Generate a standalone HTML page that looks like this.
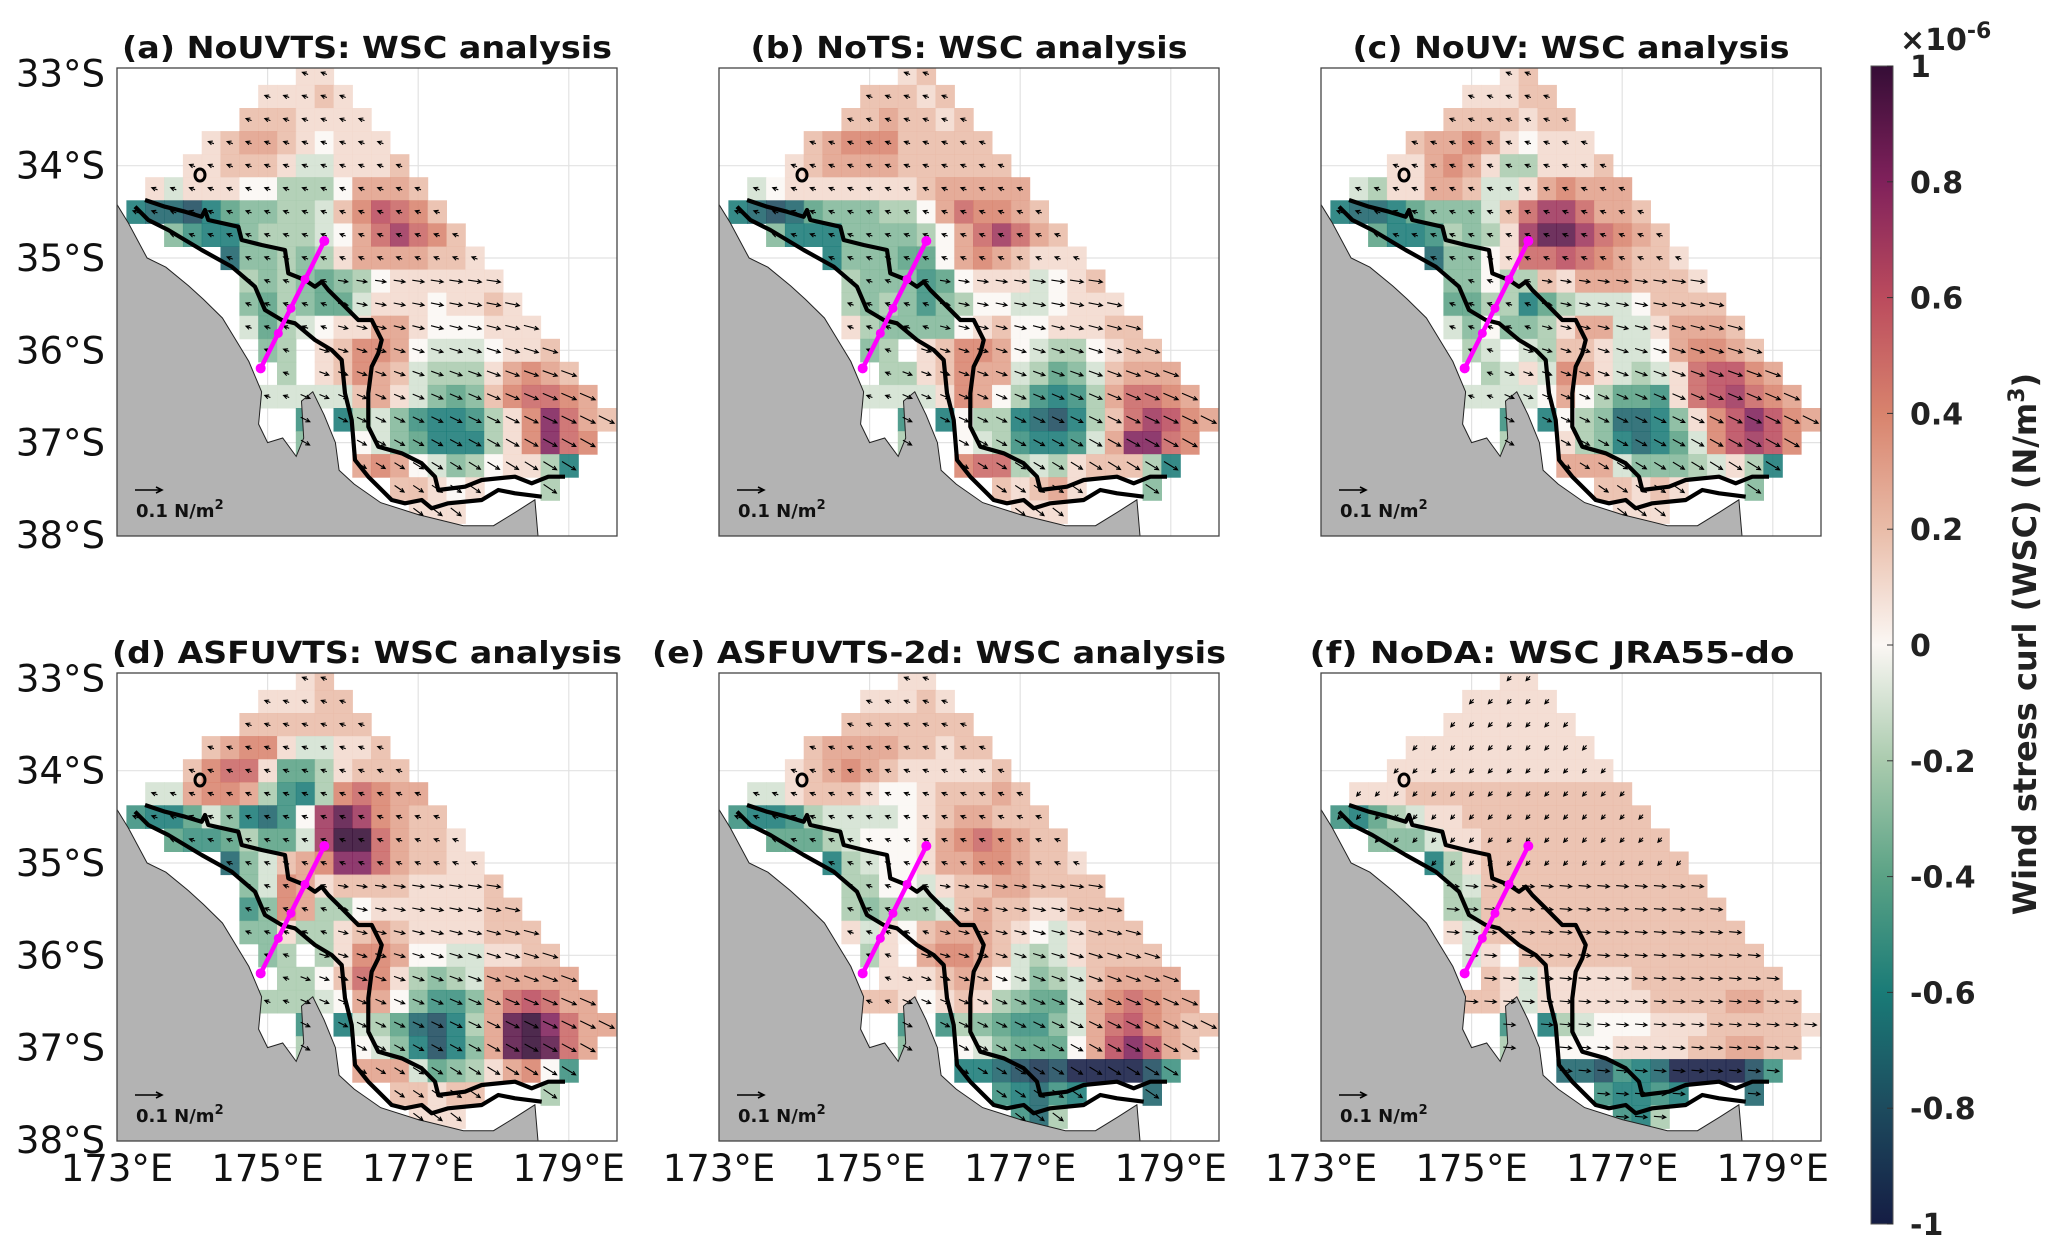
<!DOCTYPE html>
<html><head><meta charset="utf-8"><style>
html,body{margin:0;padding:0;background:#fff;}
svg{display:block;}
text{font-family:"DejaVu Sans","Liberation Sans",sans-serif;}
</style></head>
<body>
<svg id="fig" xmlns="http://www.w3.org/2000/svg" width="2060" height="1254" viewBox="0 0 2060 1254">
<defs id="defs"></defs>
<g id="panels"></g>
<g id="cbar"></g>
</svg>
<script>
// ---------- data (codes: k=0, l..u = +0.1..+1.0, j..a = -0.1..-1.0, '.' = no data) ----------
const CODES = "abcdefghijklmnopqrstu";
const panelTitles = ["(a) NoUVTS: WSC analysis","(b) NoTS: WSC analysis","(c) NoUV: WSC analysis",
  "(d) ASFUVTS: WSC analysis","(e) ASFUVTS-2d: WSC analysis","(f) NoDA: WSC JRA55-do"];
const latTicks = [33,34,35,36,37,38];
const latTickLabels = ["33°S","34°S","35°S","36°S","37°S","38°S"];
const lonTicks = [173,175,177,179];
const lonTickLabels = ["173°E","175°E","177°E","179°E"];
const cbTicks = [1,0.8,0.6,0.4,0.2,0,-0.2,-0.4,-0.6,-0.8,-1];
const cbTickLabels = ["1","0.8","0.6","0.4","0.2","0","-0.2","-0.4","-0.6","-0.8","-1"];

const wscA = ["9:ll","7:lllml","6:mmmllll","4:lmnnmlklll","3:llmmmljjlllm","1:ljlllkkiiiknnnm",
 "0:eddceghhiijmoqpom","2:hfeehiiijknprpom","5:dhhihilnnnnmml","6:ihihghikllllll",
 "6:hgihggjlllkllml","6:jgijkllnnlkkklll","7:hi.lmoonkjjjkllm","8:i.lmonmjiiilnonm",
 "7:jjjjjmnljhghmoppon","9:f.eijhfeefilospnm","9:h..kjhgeeeilospo","12:nonkjhikllie",
 "14:mmlkl...i","15:lll"];
const wscB = ["9:lm","7:mmmlm","6:mmnmmlm","4:mnooommmmm","3:lmnnnnmmmmmm","1:jklllllllmnnnnn",
 "0:edcdghhhiiknpoonm","2:heeehhhhiknprpnm","5:ehhhggknonmlll","6:ihhhfgkllljklm",
 "6:ihihfhikkjjklll","6:lihhhhklmkklllmm","7:hi.lmoonkjiiklmm","8:iilmonnjighjmnnn",
 "7:jjjjlonkifefinppon","9:f.ekiiedceimprqon","9:i..kjifeefjnsspo","12:oppijilmmmie",
 "14:mlmnl...h","15:lll"];
const wscC = ["9:lm","7:lllmm","6:mmmmlmm","4:mnnonlklll","3:llnonliilllm","1:jillnnmjjlnonnn",
 "0:eddeghhhjmprrpnnm","2:geefihilrttrponm","5:dhhklppqponmml","6:hhkiimlnnnmmml",
 "6:ggiiegijjjkmmmm","6:jhkhhilnnjjlnnnm","7:ij.jimmljjknoonm","8:ijljonljijlpqqon",
 "7:jjjjknkiggflpqrpon","9:f.ekihddehloqsqon","9:i..lihedegjoqrqo","12:nnnjhhhijlie",
 "14:mmlml...h","15:lll"];
const wscD = ["9:lm","7:lllmm","6:mmmmmmm","4:mnooljjllm","3:mopplggilmmm","1:jjnoonifeioponn",
 "0:feegjhedfkrtronmm","2:gffgiggjruupnmml","5:dhjmnosspnmmll","6:hjonlmmmmllllm",
 "6:fhoniikllllllmm","6:hhliilmnmllllmmm","7:hi.iloonkkjjllmm","8:iikmpolihijnnnnn",
 "7:iiijknnkhffhnpqpnn","9:f.ejigdceintuspnn","9:i..kjhecehntutpn","12:nnnjghilnokf",
 "14:mmlmm...i","15:lll"];
const wscE = ["9:ll","7:lllml","6:mmmmmmm","4:mnnnnmmlmm","3:lmnonmlllllm","1:jjlmmmlkklmmmnm",
 "0:feefijjjjklmnnmmm","2:gggijkkklnoponmm","5:eijkklnnoonmml","6:iikkjlmmnnmmmm",
 "6:ihiiijmnmmllmmm","6:ljlkmnnnmlkjlmmm","7:il.noonmjijlmmmm","8:lllmnmkjhijmnnnn",
 "7:mmlklmlihggjnoponn","9:f.fihgffhjnpqonmm","9:h..kjhgggknqsqnm","12:eedcbcaaaacf",
 "14:fedfe...d","15:fdi"];
const wscF = ["9:ll","7:lllll","6:lllllll","4:llllllllll","3:llllllllllll","1:lllmmmmmmmmmmmm",
 "0:fegijllmmmmmmmmmm","2:hhhjllmmmmmmmmmm","5:eilmmmmmmmmmmm","6:ijmmmmmmmmmmmm",
 "6:iimmmmmmmmmmmmm","6:ljmmmmmmmmmmmmmm","7:jl.mmmmmmmmmmmmm","8:mljlllllmmmmmmmm",
 "7:mmljllllllmmmmnnmm","9:f.eijkkklllmmmmml","9:i..kkkllllmmnnmm","12:ddcfedaaaacf",
 "14:feefe...d","15:fei"];
const panelData = [wscA,wscB,wscC,wscD,wscE,wscF];

// ---------- layout ----------
const NS="http://www.w3.org/2000/svg";
const origins=[[117,68],[719,68],[1321,68],[117,673],[719,673],[1321,673]];
const titleLens=[490,437,437,510,574,485];
const titleShift=[0,0,0,0,-30,-19];
const PW=500, PH=468, LONPX=75.3, LATPX=92.3, LAT0=32.9415;
const X=lon=>(lon-173)*LONPX, Y=lat=>(lat-LAT0)*LATPX;
function el(tag,attrs,parent){const e=document.createElementNS(NS,tag);for(const k in attrs)e.setAttribute(k,attrs[k]);if(parent)parent.appendChild(e);return e;}

const stops=[[-1,[21,29,68]],[-0.8,[29,75,94]],[-0.6,[26,123,119]],[-0.4,[90,162,133]],[-0.2,[170,203,174]],
 [0,[251,247,244]],[0.2,[233,188,168]],[0.4,[216,131,109]],[0.6,[187,75,93]],[0.8,[128,33,91]],[1,[53,13,54]]];
function cmap(v){v=Math.max(-1,Math.min(1,v));for(let i=0;i<stops.length-1;i++){const a=stops[i],b=stops[i+1];
 if(v<=b[0]){const t=(v-a[0])/(b[0]-a[0]);const c=a[1].map((x,j)=>Math.round(x+(b[1][j]-x)*t));return `rgb(${c[0]},${c[1]},${c[2]})`;}}
 return 'rgb(53,13,54)';}

const landPoly=[[172.9,34.42],[173.0,34.42],[173.15,34.62],[173.4,35.0],[173.65,35.1],[173.95,35.3],[174.15,35.45],
 [174.4,35.65],[174.55,35.85],[174.75,36.12],[174.92,36.45],[174.88,36.8],[175.0,37.0],[175.2,36.95],[175.38,37.15],
 [175.48,36.95],[175.45,36.55],[175.6,36.45],[175.75,36.7],[175.9,37.0],[175.95,37.3],[176.15,37.45],[176.5,37.65],
 [177.0,37.78],[177.6,37.9],[178.0,37.9],[178.3,37.75],[178.55,37.62],[178.6,38.1],[172.9,38.1]];
const contour1=[[90,420],[150,440],[210,455],[260,470],[270,450],[280,480],[370,500],[380,540],[440,555],[510,570],[520,640],
 [570,660],[600,680],[620,665],[640,690],[680,730],[730,780],[770,780],[800,840],[790,880],[770,920],[760,1000],[760,1100],
 [790,1160],[860,1180],[920,1210],[960,1250],[970,1290],[1050,1280],[1100,1260],[1200,1250],[1250,1270],[1300,1250],[1350,1250]];
const contour2=[[60,440],[100,480],[160,510],[260,570],[350,620],[420,680],[450,750],[500,780],[540,790],[600,840],[650,870],
 [680,900],[690,1000],[710,1080],[720,1200],[760,1250],[830,1320],[870,1330],[920,1320],[950,1345],[1000,1330],[1100,1320],
 [1150,1290],[1200,1300],[1280,1310]];
const magPts=[[437,925],[490,820],[528,745],[570,658],[628,543]];
const loc=p=>[p[0]/3-2,p[1]/3-8];

const panelsG=document.getElementById('panels');
const defs=document.getElementById('defs');
panelData.forEach((rows,pi)=>{
  const [ox,oy]=origins[pi];
  const cp=el('clipPath',{id:'clip'+pi},defs); el('rect',{x:0,y:0,width:PW,height:PH},cp);
  const g=el('g',{transform:`translate(${ox},${oy})`},panelsG);
  
  
  const inner=el('g',{'clip-path':`url(#clip${pi})`},g);
  lonTicks.slice(1).forEach(l=>{const ln=el('line',{x1:X(l),x2:X(l),y1:0,y2:PH,stroke:'#e2e2e2','stroke-width':1.2},inner);
     });
  latTicks.slice(1,5).forEach(l=>{const ln=el('line',{x1:0,x2:PW,y1:Y(l),y2:Y(l),stroke:'#e2e2e2','stroke-width':1.2},inner);
     });
  const cellsG=el('g',{},inner);
   
  const arrowsG=el('g',{},inner);
   
  rows.forEach((s,r)=>{
    const parts=s.split(':'); const st=+parts[0]; const codes=parts[1];
    const lat=33+0.25*r;
    for(let i=0;i<codes.length;i++){
      const c=codes[i]; if(c==='.')continue;
      const k=st+i; const lon=173.25+0.25*k;
      const v=(CODES.indexOf(c)-10)/10;
      const rc=el('rect',{x:X(lon-0.125).toFixed(1),y:Y(lat-0.125).toFixed(1),width:19.4,height:23.6,fill:cmap(v),'fill-opacity':0.88},cellsG);
      
      
      let ang,len;
      if(pi===5){ if(r<9){ang=2.3;len=6;} else {ang=0.08;len=12;} }
      else { if((r>=9&&k>=11)||(r>=12&&k>=9)){ang=0.15+(r-9)*0.05;len=10+Math.max(0,k-11)*0.5;} else {ang=3.5;len=6;} }
      const cx=X(lon), cy=Y(lat); const dx=Math.cos(ang)*len, dy=Math.sin(ang)*len;
      const x0=cx-dx/2,y0=cy-dy/2,x1=cx+dx/2,y1=cy+dy/2;
      const ux=Math.cos(ang),uy=Math.sin(ang);
      const ar=el('path',{d:`M${x0.toFixed(1)},${y0.toFixed(1)}L${x1.toFixed(1)},${y1.toFixed(1)}M${(x1-ux*4-uy*2).toFixed(1)},${(y1-uy*4+ux*2).toFixed(1)}L${x1.toFixed(1)},${y1.toFixed(1)}L${(x1-ux*4+uy*2).toFixed(1)},${(y1-uy*4-ux*2).toFixed(1)}`,
        stroke:'#000','stroke-width':1.1,fill:'none'},arrowsG);
      
      
    }
  });
  const land=el('path',{d:'M'+landPoly.map(p=>X(p[0]).toFixed(1)+','+Y(p[1]).toFixed(1)).join('L')+'Z',fill:'#b3b3b3',stroke:'#222','stroke-width':1},inner);
   
  inner.insertBefore(land,arrowsG);
  [contour1,contour2].forEach((cn,ci)=>{
    const p=el('path',{d:'M'+cn.map(q=>loc(q).map(v=>v.toFixed(1)).join(',')).join('L'),fill:'none',stroke:'#000','stroke-width':4.2,'stroke-linejoin':'round'},inner);
     
  });
  const oc=el('ellipse',{cx:83,cy:107,rx:5,ry:6,fill:'none',stroke:'#000','stroke-width':3},inner);
   
  const mp=magPts.map(loc);
  const ml=el('path',{d:'M'+mp[0].join(',')+'L'+mp[mp.length-1].join(','),stroke:'#ff00ff','stroke-width':4.5,fill:'none'},inner);
   
  mp.forEach(q=>{const d=el('circle',{cx:q[0],cy:q[1],r:q===mp[0]||q===mp[4]?5:4.5,fill:'#ff00ff'},inner);
     });
  const sa=el('path',{d:'M18,422L45,422M39,419L45,422L39,425',stroke:'#000','stroke-width':1.6,fill:'none'},g);
   
  const st=el('text',{x:19,y:449,'font-size':18,'font-weight':'bold',fill:'#111'},g);
   
  st.textContent='0.1 N/m';
  const sup=el('tspan',{'font-size':13,dy:-8},st); sup.textContent='2';
  const bd=el('rect',{x:0,y:0,width:PW,height:PH,fill:'none',stroke:'#444','stroke-width':1.3},g);
   
  const tt=el('text',{x:PW/2+titleShift[pi],y:-10,'text-anchor':'middle','font-size':30,'font-weight':'bold',fill:'#111',textLength:titleLens[pi],lengthAdjust:'spacingAndGlyphs'},g);
   
  tt.textContent=panelTitles[pi];
  if(pi===0||pi===3){
    latTicks.forEach((l,i)=>{const t=el('text',{x:-12,y:Y(l)+13,'text-anchor':'end','font-size':37,fill:'#111'},g);
        t.textContent=latTickLabels[i];});
  }
  if(pi>=3){
    lonTicks.forEach((l,i)=>{const t=el('text',{x:X(l),y:PH+40,'text-anchor':'middle','font-size':37,fill:'#111'},g);
        t.textContent=lonTickLabels[i];});
  }
});

// ---------- colorbar ----------
const cb=document.getElementById('cbar');
const CBX=1871, CBW=22, CBT=66, CBB=1224;
const cbY=v=>CBT+(1-v)/2*(CBB-CBT);
const lg=el('linearGradient',{id:'cbgrad',x1:0,y1:1,x2:0,y2:0},defs);
stops.forEach(s=>el('stop',{offset:((s[0]+1)/2).toFixed(3),'stop-color':`rgb(${s[1].join(',')})`},lg));
const cbr=el('rect',{x:CBX,y:CBT,width:CBW,height:CBB-CBT,fill:'url(#cbgrad)',stroke:'#555','stroke-width':1},cb);
 
cbTicks.forEach((v,i)=>{
  const tk=el('line',{x1:CBX+CBW-6,x2:CBX+CBW,y1:cbY(v),y2:cbY(v),stroke:'#333','stroke-width':1},cb);
   
  const t=el('text',{x:1910,y:cbY(v)+11,'font-size':30,'font-weight':'bold',fill:'#222'},cb);
   
  t.textContent=cbTickLabels[i];
});
const ex=el('text',{x:1900,y:50,'font-size':30,'font-weight':'bold',fill:'#222'},cb);
 
ex.textContent='×10';
const exs=el('tspan',{'font-size':22,dy:-12},ex); exs.textContent='-6';
const yl=el('text',{x:0,y:0,transform:'translate(2036,644) rotate(-90)','text-anchor':'middle','font-size':32,'font-weight':'bold',fill:'#222'},cb);
 
yl.textContent='Wind stress curl (WSC) (N/m';
const ys=el('tspan',{'font-size':22,dy:-12},yl); ys.textContent='3';
const yc=el('tspan',{dy:12},yl); yc.textContent=')';
</script>
</body></html>
